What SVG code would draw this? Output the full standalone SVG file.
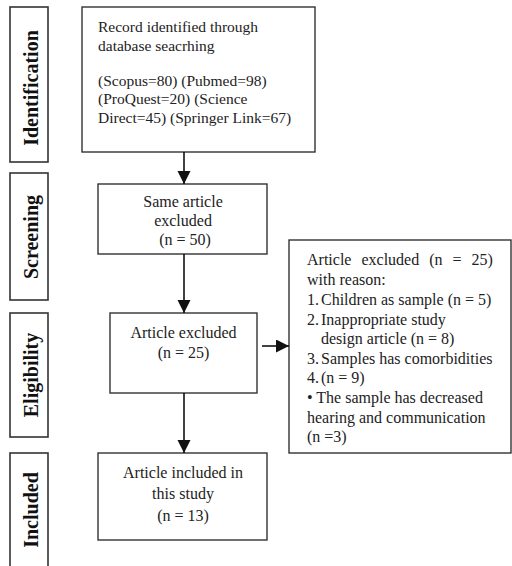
<svg xmlns="http://www.w3.org/2000/svg" width="512" height="566" viewBox="0 0 512 566">
<defs>
<marker id="ah" markerUnits="userSpaceOnUse" markerWidth="14" markerHeight="14" refX="13" refY="6.5" orient="auto">
<path d="M0,0 L13,6.5 L0,13 Z" fill="#111"/>
</marker>
<style>
.box{fill:#fff;stroke:#333;stroke-width:1.4}
.lab{fill:#fff;stroke:#333;stroke-width:1.6}
.t{font-family:"Liberation Serif","Times New Roman",serif;font-size:16px;fill:#222}
.s{font-size:15.5px}
.c{text-anchor:middle}
.v{font-family:"Liberation Serif","Times New Roman",serif;font-size:20px;font-weight:bold;fill:#111;text-anchor:middle}
.ln{stroke:#111;stroke-width:1.6;fill:none}
</style>
</defs>
<rect width="512" height="566" fill="#fff"/>
<g id="stage-identification">
<rect class="lab" x="10" y="7" width="38" height="155"/>
<text class="v" transform="translate(38,88) rotate(-90)">Identification</text>
</g>
<g id="stage-screening">
<rect class="lab" x="10" y="173" width="38" height="127"/>
<text class="v" transform="translate(38,237) rotate(-90)">Screening</text>
</g>
<g id="stage-eligibility">
<rect class="lab" x="10" y="313" width="38" height="124"/>
<text class="v" transform="translate(38,375) rotate(-90)">Eligibility</text>
</g>
<g id="stage-included">
<rect class="lab" x="10" y="453" width="38" height="118"/>
<text class="v" transform="translate(38,510) rotate(-90)">Included</text>
</g>
<g id="identified">
<rect class="box" x="82" y="7" width="233" height="145"/>
<text class="t s" x="98" y="32">Record identified through</text>
<text class="t s" x="98" y="51">database seacrhing</text>
<text class="t s" x="98" y="86">(Scopus=80) (Pubmed=98)</text>
<text class="t s" x="98" y="104">(ProQuest=20) (Science</text>
<text class="t s" x="98" y="123">Direct=45) (Springer Link=67)</text>
</g>
<g id="screened">
<rect class="box" x="98" y="184" width="169" height="70"/>
<text class="t c" x="183" y="207">Same article</text>
<text class="t c" x="183" y="226">excluded</text>
<text class="t c" x="185" y="245">(n = 50)</text>
</g>
<g id="eligible">
<rect class="box" x="110" y="313" width="147" height="80"/>
<text class="t c" x="183.5" y="338">Article excluded</text>
<text class="t c" x="183.5" y="358">(n = 25)</text>
</g>
<g id="included">
<rect class="box" x="98" y="453" width="169" height="87"/>
<text class="t c" x="183" y="478">Article included in</text>
<text class="t c" x="183" y="499">this study</text>
<text class="t c" x="183" y="521">(n = 13)</text>
</g>
<g id="excluded-reasons">
<rect class="box" x="289" y="240" width="222" height="213"/>
<text class="t" x="307" y="265" word-spacing="6">Article excluded (n = 25)</text>
<text class="t" x="307" y="285">with reason:</text>
<text class="t" y="305"><tspan x="307">1.</tspan><tspan x="321">Children as sample (n = 5)</tspan></text>
<text class="t" y="325"><tspan x="307">2.</tspan><tspan x="321">Inappropriate study</tspan></text>
<text class="t" x="321" y="344">design article (n = 8)</text>
<text class="t" y="364"><tspan x="307">3.</tspan><tspan x="321">Samples has comorbidities</tspan></text>
<text class="t" y="383"><tspan x="307">4.</tspan><tspan x="321">(n = 9)</tspan></text>
<text class="t" x="307" y="403">• The sample has decreased</text>
<text class="t" x="307" y="423">hearing and communication</text>
<text class="t" x="307" y="442">(n =3)</text>
</g>
<g id="connectors">
<line class="ln" x1="184" y1="152" x2="184" y2="184" marker-end="url(#ah)"/>
<line class="ln" x1="184" y1="254" x2="184" y2="313" marker-end="url(#ah)"/>
<line class="ln" x1="184" y1="393" x2="184" y2="453" marker-end="url(#ah)"/>
<line class="ln" x1="262" y1="346" x2="289" y2="346" marker-end="url(#ah)"/>
</g>
</svg>
